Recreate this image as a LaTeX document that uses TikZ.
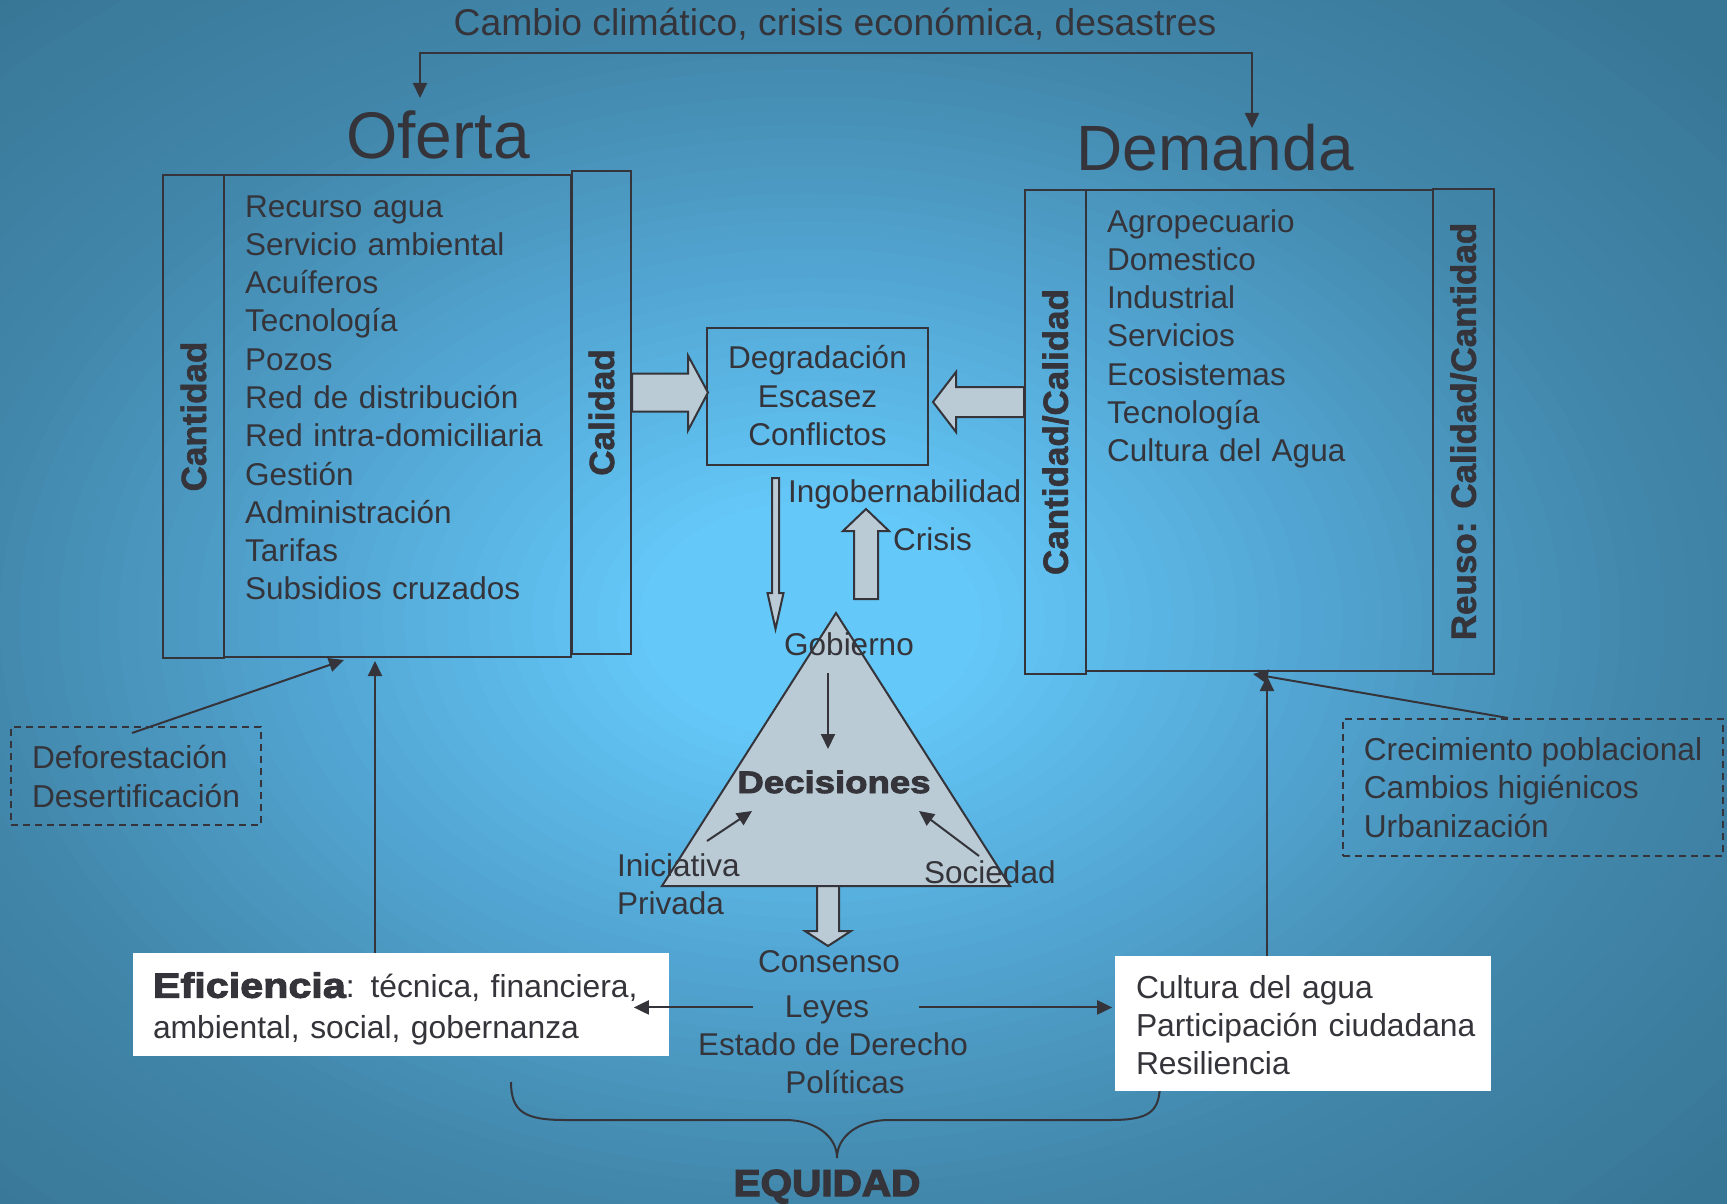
\documentclass[tikz,border=0pt]{standalone}
\usepackage{fontspec}
\setmainfont{Liberation Sans}
\newfontfamily\colfont{Liberation Sans Bold}[FakeBold=1.6]
\newfontfamily\blackfont{Liberation Sans Bold}[FakeBold=3,FakeStretch=1.18]
\newfontfamily\eqfont{Liberation Sans Bold}[FakeBold=3.5,FakeStretch=1.08]
\usetikzlibrary{arrows.meta,calc}
\definecolor{ink}{RGB}{52,52,58}
\definecolor{arrfill}{RGB}{186,203,214}
\definecolor{bgC}{RGB}{100,200,248}
\definecolor{bgM}{RGB}{82,165,210}
\definecolor{bgO}{RGB}{66,136,172}
\definecolor{bgE}{RGB}{56,118,150}
\newcommand\fsz[2]{\fontsize{#1}{#2}\selectfont}
\tikzset{
  lbl/.style={text=ink, inner sep=0pt, font=\fsz{31.5}{38.3}},
  box/.style={draw=ink, line width=2pt, inner sep=0pt},
  col/.style={box, text=ink, font=\colfont\fsz{35}{40}},
  conn/.style={draw=ink, line width=2pt, -{Triangle[length=15pt,width=14pt]}},
  conntwo/.style={draw=ink, line width=2pt, {Triangle[length=15pt,width=14pt]}-{Triangle[length=15pt,width=14pt]}},
  fat/.style={draw=ink, line width=2pt, fill=arrfill, line join=miter},
  dbox/.style={draw=ink, line width=2pt, dash pattern=on 7pt off 5pt, inner sep=0pt, text=ink, align=left, font=\fsz{31.7}{39}},
  wbox/.style={fill=white, inner ysep=0pt, text=ink, align=left},
}
\begin{document}
\begin{tikzpicture}[x=1pt,y=-1pt]
\useasboundingbox (0,0) rectangle (1727,1204);
% background: stacked ellipses as a radial gradient
\fill[bgE] (0,0) rectangle (1727,1204);
\foreach \k in {0,...,15}{
  \pgfmathsetmacro\r{1-0.32*\k/16}\pgfmathsetmacro\p{100*\k/16}
  \fill[color=bgO!\p!bgE] (810,620) ellipse [x radius=\r*1221, y radius=\r*851];}
\foreach \k in {0,...,15}{
  \pgfmathsetmacro\r{0.68-0.26*\k/16}\pgfmathsetmacro\p{100*\k/16}
  \fill[color=bgM!\p!bgO] (810,620) ellipse [x radius=\r*1221, y radius=\r*851];}
\foreach \k in {0,...,15}{
  \pgfmathsetmacro\r{0.42-0.28*\k/16}\pgfmathsetmacro\p{100*\k/16}
  \fill[color=bgC!\p!bgM] (810,620) ellipse [x radius=\r*1221, y radius=\r*851];}
\fill[bgC] (810,620) ellipse [x radius=0.14*1221, y radius=0.14*851];

% titles
\node[text=ink, inner sep=0pt, font=\fsz{37.3}{40}, anchor=base] (cambio) at (835,36) {Cambio climático, crisis económica, desastres};
\node[text=ink, inner sep=0pt, font=\fsz{66}{70}, anchor=base] (oferta) at (438,158) {Oferta};
\node[text=ink, inner sep=0pt, font=\fsz{64}{70}, anchor=base] (demanda) at (1215,171) {Demanda};
\coordinate (ofTop) at ([shift={(-18,-60)}]oferta.base);
\coordinate (deTop) at ([shift={(37,-43)}]demanda.base);
\draw[conntwo] (ofTop) |- ([yshift=-17pt]cambio.base) -| (deTop);

% Oferta block
\node[col, minimum width=61, minimum height=483] (ofCant) at (193.5,416.5) {\rotatebox{90}{Cantidad}};
\node[box, minimum width=347, minimum height=482] (ofMain) at (397.5,416) {};
\node[col, minimum width=59, minimum height=483] (ofCal) at (601.5,412.5) {\rotatebox{90}{Calidad}};
\node[lbl, anchor=base west, text width=340, align=left] (ofList) at (245,217)
  {Recurso agua\\Servicio ambiental\\Acuíferos\\Tecnología\\Pozos\\Red de distribución\\Red intra-domiciliaria\\Gestión\\Administración\\Tarifas\\Subsidios cruzados};

% Demanda block
\node[col, minimum width=61, minimum height=484] (deCC) at (1055.5,432) {\rotatebox{90}{Cantidad/Calidad}};
\node[box, minimum width=347, minimum height=481] (deMain) at (1259.5,430.5) {};
\node[col, minimum width=61, minimum height=485] (deReuso) at (1463.5,431.5) {\rotatebox{90}{Reuso: Calidad/Cantidad}};
\node[lbl, anchor=base west, text width=300, align=left] (deList) at (1107,232)
  {Agropecuario\\Domestico\\Industrial\\Servicios\\Ecosistemas\\Tecnología\\Cultura del Agua};

% central box
\node[box, lbl, font=\fsz{31.5}{38.5}, minimum width=221, minimum height=137, align=center] (deg) at (817.5,396) {Degradación\\Escasez\\Conflictos};

% fat arrows to central box
\draw[fat] ([shift={(0,-39)}]ofCal.east) -- ++(56,0) -- ++(0,-18) -- ++(20,37) -- ++(-20,38) -- ++(0,-19) -- ++(-56,0) -- cycle;
\draw[fat] ([shift={(0,-45)}]deCC.west) -- ++(-68,0) -- ++(0,-15) -- ++(-23,30) -- ++(23,30) -- ++(0,-15) -- ++(68,0) -- cycle;

% thin down arrow and crisis arrow
\draw[fat] ([shift={(-45.5,12.5)}]deg.south) -- ++(7,0) -- ++(0,115) -- ++(4.5,0) -- ++(-8,36) -- ++(-8,-36) -- ++(4.5,0) -- cycle;
\draw[fat] ([shift={(36.5,133.5)}]deg.south) -- ++(24,0) -- ++(0,-68) -- ++(11,0) -- ++(-23,-22) -- ++(-23,22) -- ++(11,0) -- cycle;
\node[lbl, anchor=base west] (ingob) at (788,502) {Ingobernabilidad};
\node[lbl, anchor=base west] (crisis) at (893,550) {Crisis};

% triangle
\coordinate (triA) at (836,613);
\coordinate (triL) at (662,886);
\coordinate (triR) at (1010,886);
\draw[fat] (triA) -- (triL) -- (triR) -- cycle;
\draw[fat] ([shift={(155,0)}]triL) -- ++(22,0) -- ++(0,45) -- ++(12,0) -- ++(-23,15) -- ++(-23,-15) -- ++(12,0) -- cycle;

\node[lbl, anchor=base] (gob) at (849,655) {Gobierno};
\node[text=ink, inner sep=0pt, font=\blackfont\fsz{31}{36}, anchor=base] (dec) at (834,793) {Decisiones};
\node[lbl, font=\fsz{31.5}{38}, anchor=base west, text width=160, align=left] (ini) at (617,876) {Iniciativa\\Privada};
\node[lbl, anchor=base west] (soc) at (924,883) {Sociedad};
\draw[conn] ([shift={(-21,18)}]gob.base) -- ([shift={(-6,-44)}]dec.base);
\draw[conn] ([shift={(90,-35)}]ini.base west) -- ([shift={(-82,18)}]dec.base);
\draw[conn] ([shift={(55,-27)}]soc.base west) -- ([shift={(85,18)}]dec.base);

% bottom texts
\node[lbl, anchor=base] (consenso) at (829,972) {Consenso};
\node[lbl, anchor=base] (leyes) at (827,1017) {Leyes};
\node[lbl, anchor=base] (estado) at (833,1055) {Estado de Derecho};
\node[lbl, anchor=base] (politicas) at (845,1093) {Políticas};

% brace and equidad
\node[text=ink, inner sep=0pt, font=\eqfont\fsz{37.5}{40}, anchor=base] (equidad) at (827,1196) {EQUIDAD};
\coordinate (brTip) at ([shift={(10,-38)}]equidad.base);
\coordinate (brL) at (511,1082);
\coordinate (brR) at (1160,1082);
\draw[draw=ink, line width=2pt] (brL) .. controls +(0,30) and +(-40,0) .. ($(brL)+(54,38)$) -- ($(brTip)+(-52,-38)$) .. controls +(30,0) and +(0,-22) .. (brTip) .. controls +(0,-22) and +(-30,0) .. ($(brTip)+(52,-38)$) -- ($(brR)+(-50,38)$) .. controls +(40,0) and +(0,30) .. (brR);

% white boxes
\node[wbox, minimum width=536, minimum height=103, text width=496, inner xsep=20pt, font=\fsz{31.8}{41}] (eff) at (401,1004.5)
  {\mbox{\rule{0pt}{34pt}{\blackfont\fsz{35}{41}Eficiencia}: técnica, financiera,}\\\mbox{ambiental, social, gobernanza}};
\node[wbox, minimum width=376, minimum height=135, text width=334, inner xsep=21pt, font=\fsz{31.8}{38}] (cult) at (1303,1023.5)
  {\mbox{\rule{0pt}{27pt}Cultura del agua}\\\mbox{Participación ciudadana}\\\mbox{Resiliencia}};

% Leyes arrows
\draw[conn] ([shift={(-32,-2)}]leyes.west) -- ++(-119,0);
\draw[conn] ([shift={(50,-2)}]leyes.east) -- ++(193,0);

% dashed boxes
\node[dbox, minimum width=250, minimum height=98] (defo) at (136,776) {Deforestación\\Desertificación};
\node[dbox, minimum width=380, minimum height=137, font=\fsz{31.7}{38.5}] (crec) at (1533,787.5) {Crecimiento poblacional\\Cambios higiénicos\\Urbanización};

% arrows into blocks
\coordinate (ofIn) at ([shift={(-22.5,3)}]ofMain.south);
\coordinate (deIn) at ([shift={(7.5,4)}]deMain.south);
\draw[conn] (eff.north -| ofIn) -- (ofIn);
\draw[conn] (cult.north -| deIn) -- (deIn);
\draw[conn] ([shift={(122,7)}]defo.north west) -- ([shift={(-53.5,2)}]ofMain.south);
\draw[conn] ([shift={(-25,0)}]crec.north) -- ([shift={(-6.5,2)}]deMain.south);
\end{tikzpicture}
\end{document}
